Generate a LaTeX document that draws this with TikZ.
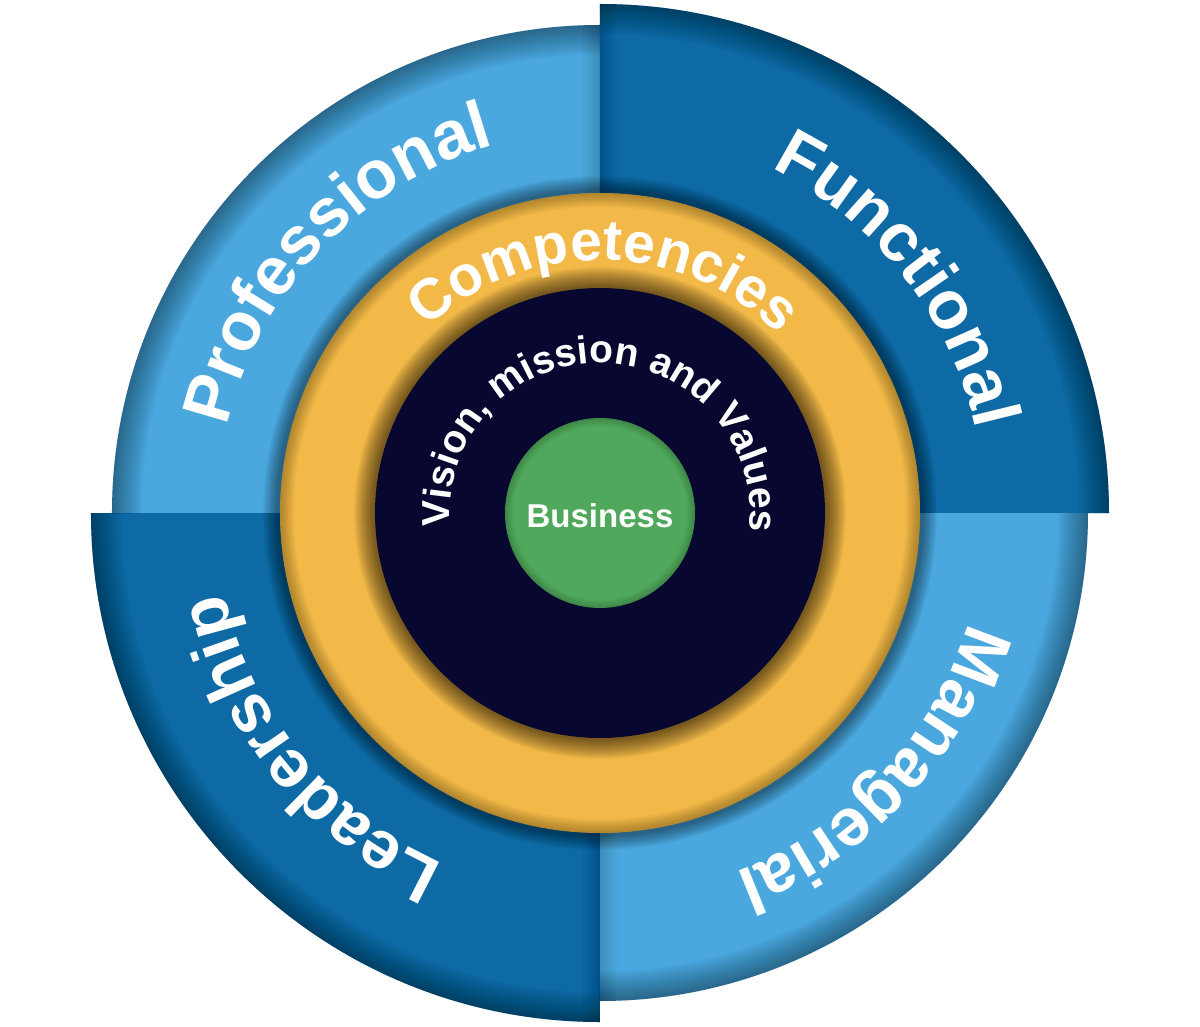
\documentclass[tikz,border=0pt]{standalone}
\usepackage{fontspec}
\setmainfont{Liberation Sans}
\usetikzlibrary{decorations.text}
\definecolor{lightq}{HTML}{4AA8DF}
\definecolor{darkq}{HTML}{0D6AA5}
\definecolor{ringy}{HTML}{F2B948}
\definecolor{navyc}{HTML}{07072F}
\definecolor{greenc}{HTML}{4FA85B}
\newcommand\quadfont{\bfseries\fontsize{68pt}{80pt}\selectfont}
\newcommand\compfont{\bfseries\fontsize{57pt}{66pt}\selectfont}
\newcommand\visfont{\bfseries\fontsize{39pt}{46pt}\selectfont}
\tikzset{
  curvedlabel/.style={decorate, decoration={text along path, text align=center, text color=white, text={#1}}},
  shadestroke/.style={black, opacity=#1},
}
\begin{document}
\begin{tikzpicture}
\useasboundingbox (-600pt,-513pt) rectangle (600pt,513pt);

% ---- quadrants ----
\fill[lightq] (0,0) -- (180:488pt) arc[start angle=180,end angle=90,radius=488pt] -- cycle;
\fill[darkq]  (0,0) -- (90:509pt) arc[start angle=90,end angle=0,radius=509pt] -- cycle;
\fill[lightq] (0,0) -- (0:488pt) arc[start angle=0,end angle=-90,radius=488pt] -- cycle;
\fill[darkq]  (0,0) -- (-90:509pt) arc[start angle=-90,end angle=-180,radius=509pt] -- cycle;

% inner shadows of the quadrants (outer arcs, then the vertical edges)
\begin{scope}
  \clip (0,0) -- (180:488pt) arc[start angle=180,end angle=90,radius=488pt] -- cycle;
  \foreach \w in {3,6,...,60} \draw[shadestroke=0.02, line width=\w pt] (0:488pt) arc[start angle=0,end angle=180,radius=488pt];
  \foreach \w in {3,6,...,36} \draw[shadestroke=0.012, line width=\w pt] (0,-5pt) -- (0,520pt);
\end{scope}
\begin{scope}
  \clip (0,0) -- (90:509pt) arc[start angle=90,end angle=0,radius=509pt] -- cycle;
  \foreach \w in {3,6,...,60} \draw[shadestroke=0.02, line width=\w pt] (180:509pt) arc[start angle=180,end angle=0,radius=509pt];
  \foreach \w in {3,6,...,36} \draw[shadestroke=0.012, line width=\w pt] (0,-5pt) -- (0,520pt);
\end{scope}
\begin{scope}
  \clip (0,0) -- (0:488pt) arc[start angle=0,end angle=-90,radius=488pt] -- cycle;
  \foreach \w in {3,6,...,60} \draw[shadestroke=0.02, line width=\w pt] (-180:488pt) arc[start angle=-180,end angle=0,radius=488pt];
  \foreach \w in {3,6,...,36} \draw[shadestroke=0.012, line width=\w pt] (0,5pt) -- (0,-520pt);
\end{scope}
\begin{scope}
  \clip (0,0) -- (-90:509pt) arc[start angle=-90,end angle=-180,radius=509pt] -- cycle;
  \foreach \w in {3,6,...,60} \draw[shadestroke=0.02, line width=\w pt] (0:509pt) arc[start angle=0,end angle=-180,radius=509pt];
  \foreach \w in {3,6,...,36} \draw[shadestroke=0.012, line width=\w pt] (0,5pt) -- (0,-520pt);
\end{scope}

% ---- yellow ring ----
\foreach \w in {2,4,...,30} \draw[shadestroke=0.03, line width=\w pt] (0,0) circle[radius=322pt];
\fill[ringy] (0,0) circle[radius=320pt];
\begin{scope}
  \clip (0,0) circle[radius=320pt];
  \foreach \w in {2,4,...,28} \draw[shadestroke=0.02, line width=\w pt] (0,0) circle[radius=320pt];
  \foreach \w in {2,4,...,40} \draw[shadestroke=0.03, line width=\w pt] (0,0) circle[radius=226pt];
\end{scope}

% ---- navy disc ----
\fill[navyc] (0,0) circle[radius=225pt];

% ---- green disc ----
\fill[greenc] (0,0) circle[radius=95pt];
\begin{scope}
  \clip (0,0) circle[radius=95pt];
  \foreach \w in {2,4,...,16} \draw[shadestroke=0.025, line width=\w pt] (0,0) circle[radius=95pt];
\end{scope}

% ---- texts ----
\path[curvedlabel={|\quadfont|Professional}] (216.5:383pt) arc[start angle=216.5,end angle=56.5,radius=383pt];
\path[curvedlabel={|\quadfont|Functional}] (118:385pt) arc[start angle=118,end angle=-42,radius=385pt];
\path[curvedlabel={|\quadfont|Managerial}] (37:384pt) arc[start angle=37,end angle=-123,radius=384pt];
\path[curvedlabel={|\quadfont|Leadership}] (-61:384pt) arc[start angle=-61,end angle=-221,radius=384pt];

\path[curvedlabel={|\compfont|Competencies}] (174:253pt) arc[start angle=174,end angle=4,radius=253pt];
\path[curvedlabel={|\visfont|Vision, mission and Values}] (199:150pt) arc[start angle=199,end angle=-21,radius=150pt];

\node[text=white, font=\bfseries\fontsize{33pt}{40pt}\selectfont] (business) at (0,-3pt) {Business};
\end{tikzpicture}
\end{document}
